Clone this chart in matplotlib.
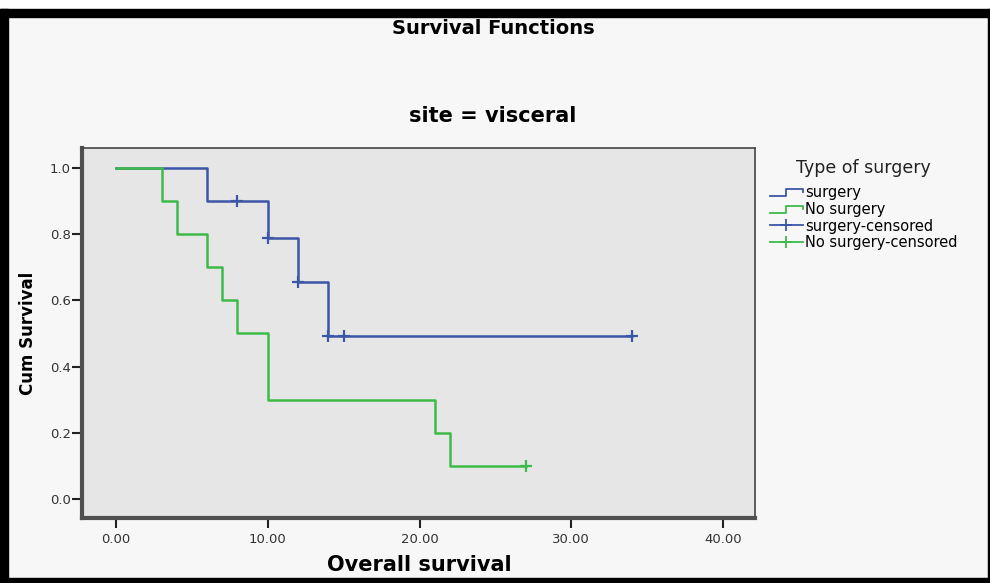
import matplotlib
matplotlib.use('agg')
import matplotlib.pyplot as plt
from matplotlib.lines import Line2D
from matplotlib.legend_handler import HandlerBase
from matplotlib.patches import Rectangle

plt.rcParams['font.family'] = ['DejaVu Sans']

# Kaplan-Meier step data
surg_t = [0, 6, 10, 12, 14, 34]
surg_s = [1.0, 0.9, 0.7875, 0.65625, 0.4922, 0.4922]
surg_cens_t = [8, 10, 12, 14, 15, 34]
surg_cens_s = [0.9, 0.7875, 0.65625, 0.4922, 0.4922, 0.4922]

nosurg_t = [0, 3, 4, 6, 7, 8, 10, 21, 22, 27]
nosurg_s = [1.0, 0.9, 0.8, 0.7, 0.6, 0.5, 0.3, 0.2, 0.1, 0.1]
nosurg_cens_t = [27]
nosurg_cens_s = [0.1]

x_ticks = [0, 10, 20, 30, 40]
y_ticks = [0.0, 0.2, 0.4, 0.6, 0.8, 1.0]

blue = '#3c56a8'
green = '#3dbb48'


class HandlerStep(HandlerBase):
    def create_artists(self, legend, orig_handle, xdescent, ydescent,
                       width, height, fontsize, trans):
        x0, w = -xdescent, width
        lo = -ydescent + 0.1 * height
        hi = -ydescent + 0.8 * height
        xs = [x0, x0 + 0.5 * w, x0 + 0.5 * w, x0 + w, x0 + w]
        ys = [lo, lo, hi, hi, hi - 0.35 * height]
        ln = Line2D(xs, ys, color=orig_handle.get_color(), lw=1.3)
        ln.set_transform(trans)
        return [ln]


fig = plt.figure(figsize=(9.9, 5.83), dpi=100, facecolor='#f7f7f7')

# black frame around the picture (as in the screenshot)
fig.patches.append(Rectangle((0, 1 - 9 / 583), 1, 9 / 583, transform=fig.transFigure,
                             color='white', zorder=5))
fig.patches.append(Rectangle((0, 1 - 17 / 583), 1, 8 / 583, transform=fig.transFigure,
                             color='black', zorder=5))
fig.patches.append(Rectangle((0, 0), 8 / 990, 1 - 9 / 583, transform=fig.transFigure,
                             color='black', zorder=5))
fig.patches.append(Rectangle((0, 0), 1, 5 / 583, transform=fig.transFigure,
                             color='black', zorder=5))
fig.patches.append(Rectangle((1 - 2 / 990, 0), 2 / 990, 1 - 9 / 583,
                             transform=fig.transFigure, color='black', zorder=5))

ax = fig.add_axes([82 / 990, 65 / 583, 673 / 990, 370 / 583])
ax.set_facecolor('#e6e6e6')

ax.plot(surg_t, surg_s, drawstyle='steps-post', color=blue, lw=1.8, zorder=3)
ax.plot(nosurg_t, nosurg_s, drawstyle='steps-post', color=green, lw=1.8, zorder=4)
ax.plot(surg_cens_t, surg_cens_s, ls='none', marker='+', ms=8, mew=1.6,
        color=blue, zorder=5)
ax.plot(nosurg_cens_t, nosurg_cens_s, ls='none', marker='+', ms=8, mew=1.6,
        color=green, zorder=5)

ax.set_xlim(-2.24, 42.1)
ax.set_ylim(-0.057, 1.06)
ax.set_xticks(x_ticks)
ax.set_xticklabels(['%.2f' % v for v in x_ticks])
ax.set_yticks(y_ticks)
ax.set_yticklabels(['%.1f' % v for v in y_ticks])
ax.tick_params(axis='both', direction='out', length=7, width=1.5,
               color='#222222', labelsize=9.5, labelcolor='#333333')
ax.tick_params(axis='x', pad=4)
ax.tick_params(axis='y', pad=1)

for side in ['left', 'bottom']:
    ax.spines[side].set_linewidth(3)
    ax.spines[side].set_color('#505050')
for side in ['top', 'right']:
    ax.spines[side].set_linewidth(1.2)
    ax.spines[side].set_color('#444444')

fig.text(0.498, 1 - 28 / 583, 'Survival Functions', ha='center', va='center',
         fontsize=14, fontweight='bold')
fig.text(0.498, 1 - 116 / 583, 'site = visceral', ha='center', va='center',
         fontsize=15, fontweight='bold')
fig.text(419 / 990, 1 - 565 / 583, 'Overall survival', ha='center', va='center',
         fontsize=15, fontweight='bold')
fig.text(28 / 990, 1 - 333 / 583, 'Cum Survival', ha='center', va='center',
         rotation=90, fontsize=12, fontweight='bold')

handles = [
    Line2D([], [], color=blue),
    Line2D([], [], color=green),
    Line2D([], [], color=blue, lw=1.3, marker='+', ms=8, mew=1.3),
    Line2D([], [], color=green, lw=1.3, marker='+', ms=8, mew=1.3),
]
labels = ['surgery', 'No surgery', 'surgery-censored', 'No surgery-censored']
leg = fig.legend(handles, labels, title='Type of surgery', loc='upper left',
                 bbox_to_anchor=(758 / 990, 1 - 147 / 583), frameon=False,
                 fontsize=10.5, title_fontsize=12.5, handlelength=2.3,
                 handletextpad=0.15, labelspacing=0.12, borderpad=0.3,
                 handler_map={handles[0]: HandlerStep(), handles[1]: HandlerStep()})
leg.get_title().set_color('#222222')
leg._legend_box.sep = 6

fig.savefig('out.png', dpi=100, facecolor=fig.get_facecolor())
